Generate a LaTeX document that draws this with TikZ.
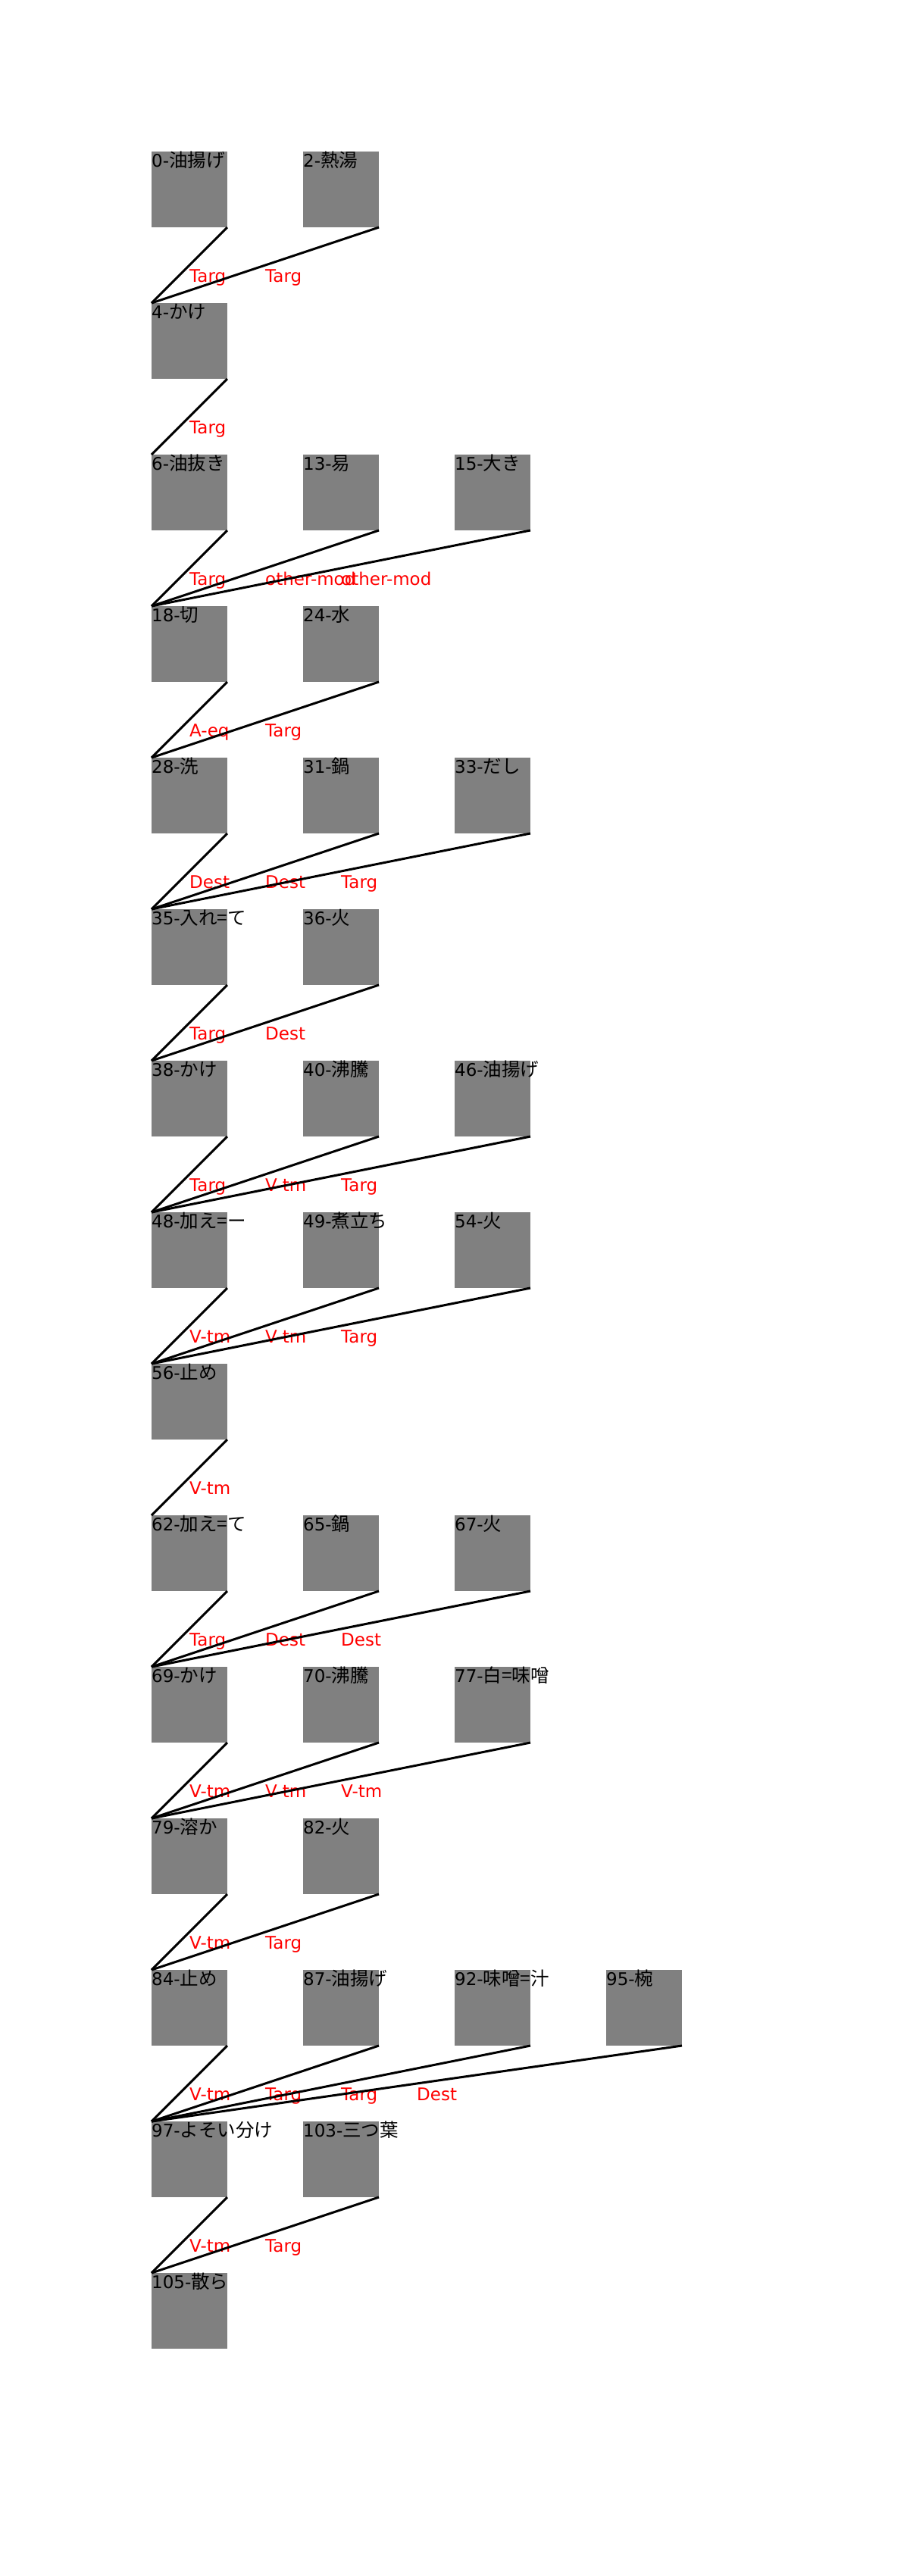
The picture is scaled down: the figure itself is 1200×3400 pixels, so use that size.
\documentclass[tikz,border=0pt]{standalone}
\usepackage{fontspec}
\newfontfamily\latf{DejaVu Sans}
\newfontfamily\cjkf{Noto Sans CJK JP}
\newcommand\nlab[2]{{\latf\fontsize{23}{28}\selectfont #1}{\cjkf\fontsize{24.5}{28}\selectfont #2}}
\begin{document}
\begin{tikzpicture}[x=1pt,y=-1pt,
  box/.style={draw=none,fill=gray,anchor=north west,minimum width=100pt,minimum height=100pt,inner sep=0pt,outer sep=0pt},
  ntext/.style={anchor=base west,inner sep=0pt,text=black},
  elab/.style={anchor=base west,inner sep=0pt,text=red,font=\latf\fontsize{23}{28}\selectfont},
  conn/.style={draw=black,line width=3pt}]
\useasboundingbox (0,0) rectangle (1200,3400);
\newcommand\bx[4]{\node[box] (n#1) at (#2,#3) {}; \node[ntext] (t#1) at (#2,#3+20.5) {#4};}
\newcommand\cn[5]{\draw[conn] (n#1.south east) -- (n#2.north west); \node[elab] (l#1) at (#3,#4) {#5};}
% row 0
\bx{0}{200}{200}{\nlab{0-}{油揚げ}}
\bx{2}{400}{200}{\nlab{2-}{熱湯}}
% row 1
\bx{4}{200}{400}{\nlab{4-}{かけ}}
% row 2
\bx{6}{200}{600}{\nlab{6-}{油抜き}}
\bx{13}{400}{600}{\nlab{13-}{易}}
\bx{15}{600}{600}{\nlab{15-}{大き}}
% row 3
\bx{18}{200}{800}{\nlab{18-}{切}}
\bx{24}{400}{800}{\nlab{24-}{水}}
% row 4
\bx{28}{200}{1000}{\nlab{28-}{洗}}
\bx{31}{400}{1000}{\nlab{31-}{鍋}}
\bx{33}{600}{1000}{\nlab{33-}{だし}}
% row 5
\bx{35}{200}{1200}{\nlab{35-}{入れ=て}}
\bx{36}{400}{1200}{\nlab{36-}{火}}
% row 6
\bx{38}{200}{1400}{\nlab{38-}{かけ}}
\bx{40}{400}{1400}{\nlab{40-}{沸騰}}
\bx{46}{600}{1400}{\nlab{46-}{油揚げ}}
% row 7
\bx{48}{200}{1600}{\nlab{48-}{加え=ー}}
\bx{49}{400}{1600}{\nlab{49-}{煮立ち}}
\bx{54}{600}{1600}{\nlab{54-}{火}}
% row 8
\bx{56}{200}{1800}{\nlab{56-}{止め}}
% row 9
\bx{62}{200}{2000}{\nlab{62-}{加え=て}}
\bx{65}{400}{2000}{\nlab{65-}{鍋}}
\bx{67}{600}{2000}{\nlab{67-}{火}}
% row 10
\bx{69}{200}{2200}{\nlab{69-}{かけ}}
\bx{70}{400}{2200}{\nlab{70-}{沸騰}}
\bx{77}{600}{2200}{\nlab{77-}{白=味噌}}
% row 11
\bx{79}{200}{2400}{\nlab{79-}{溶か}}
\bx{82}{400}{2400}{\nlab{82-}{火}}
% row 12
\bx{84}{200}{2600}{\nlab{84-}{止め}}
\bx{87}{400}{2600}{\nlab{87-}{油揚げ}}
\bx{92}{600}{2600}{\nlab{92-}{味噌=汁}}
\bx{95}{800}{2600}{\nlab{95-}{椀}}
% row 13
\bx{97}{200}{2800}{\nlab{97-}{よそい分け}}
\bx{103}{400}{2800}{\nlab{103-}{三つ葉}}
% row 14
\bx{105}{200}{3000}{\nlab{105-}{散ら}}
% connectors
\cn{0}{4}{250}{372}{Targ}
\cn{2}{4}{350}{372}{Targ}
\cn{4}{6}{250}{572}{Targ}
\cn{6}{18}{250}{772}{Targ}
\cn{13}{18}{350}{772}{other-mod}
\cn{15}{18}{450}{772}{other-mod}
\cn{18}{28}{250}{972}{A-eq}
\cn{24}{28}{350}{972}{Targ}
\cn{28}{35}{250}{1172}{Dest}
\cn{31}{35}{350}{1172}{Dest}
\cn{33}{35}{450}{1172}{Targ}
\cn{35}{38}{250}{1372}{Targ}
\cn{36}{38}{350}{1372}{Dest}
\cn{38}{48}{250}{1572}{Targ}
\cn{40}{48}{350}{1572}{V-tm}
\cn{46}{48}{450}{1572}{Targ}
\cn{48}{56}{250}{1772}{V-tm}
\cn{49}{56}{350}{1772}{V-tm}
\cn{54}{56}{450}{1772}{Targ}
\cn{56}{62}{250}{1972}{V-tm}
\cn{62}{69}{250}{2172}{Targ}
\cn{65}{69}{350}{2172}{Dest}
\cn{67}{69}{450}{2172}{Dest}
\cn{69}{79}{250}{2372}{V-tm}
\cn{70}{79}{350}{2372}{V-tm}
\cn{77}{79}{450}{2372}{V-tm}
\cn{79}{84}{250}{2572}{V-tm}
\cn{82}{84}{350}{2572}{Targ}
\cn{84}{97}{250}{2772}{V-tm}
\cn{87}{97}{350}{2772}{Targ}
\cn{92}{97}{450}{2772}{Targ}
\cn{95}{97}{550}{2772}{Dest}
\cn{97}{105}{250}{2972}{V-tm}
\cn{103}{105}{350}{2972}{Targ}
\end{tikzpicture}
\end{document}
